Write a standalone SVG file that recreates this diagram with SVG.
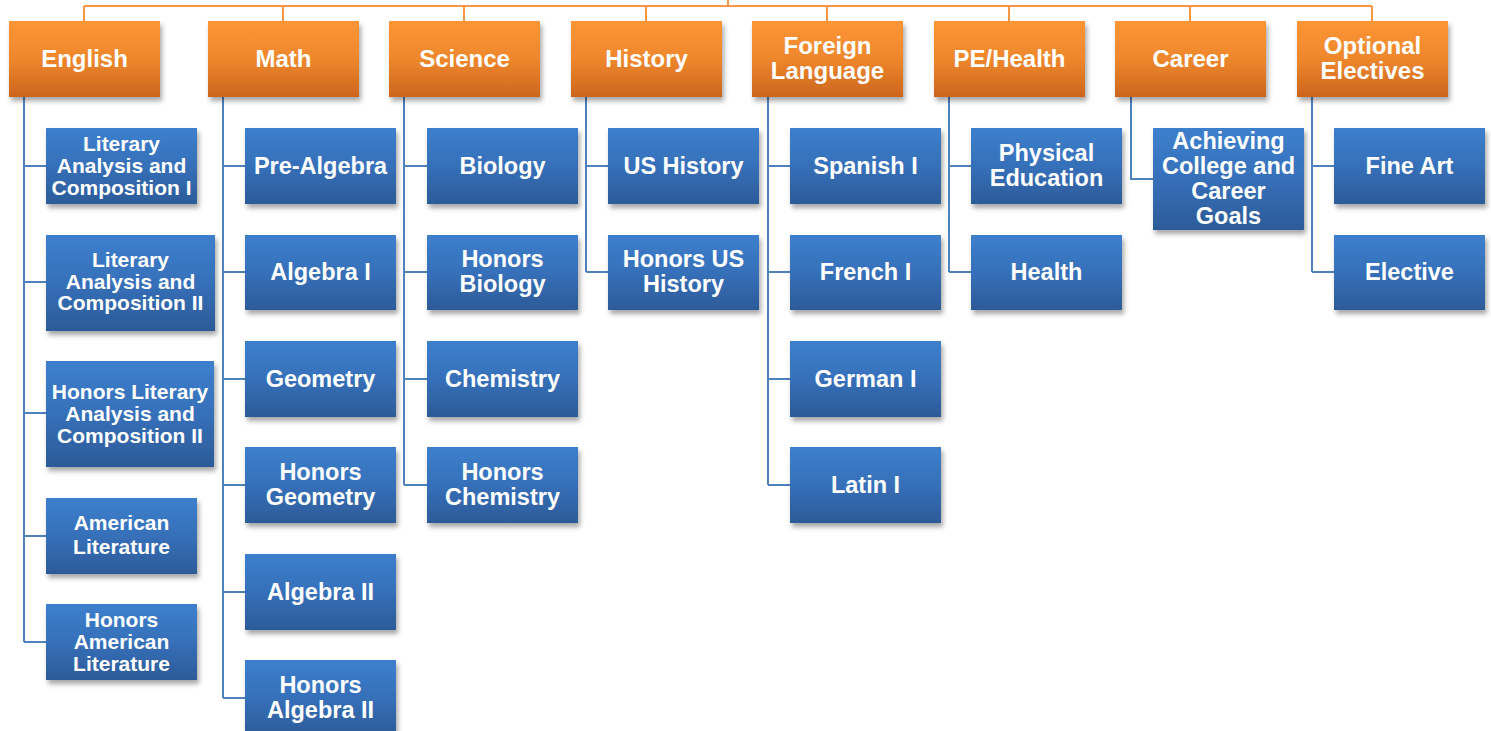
<svg xmlns="http://www.w3.org/2000/svg" width="1491" height="731" viewBox="0 0 1491 731">
<defs>
<linearGradient id="og" x1="0" y1="0" x2="0" y2="1">
<stop offset="0" stop-color="#FD9535"/><stop offset="0.5" stop-color="#EE872C"/><stop offset="1" stop-color="#CB661E"/>
</linearGradient>
<linearGradient id="bg" x1="0" y1="0" x2="0" y2="1">
<stop offset="0" stop-color="#3D7FCD"/><stop offset="0.5" stop-color="#3670B9"/><stop offset="1" stop-color="#2C5B98"/>
</linearGradient>
<filter id="sh" x="-10%" y="-10%" width="130%" height="140%">
<feDropShadow dx="2" dy="4" stdDeviation="2.5" flood-color="#000" flood-opacity="0.35"/>
</filter>
<style>
.o{fill:url(#og);filter:url(#sh)}
.b{fill:url(#bg);filter:url(#sh)}
text{font-family:"Liberation Sans",Arial,sans-serif;font-weight:bold;fill:#fff;text-anchor:middle}
.t{font-size:23.5px}
.h{font-size:24px}
.s{font-size:21px}
.oc{fill:none;stroke:#F79646;stroke-width:2}
.bc{fill:none;stroke:#4F81BD;stroke-width:2}
</style>
</defs>
<g id="connectors">
<path class="oc" d="M728,0V6M84,6H1372M84,6V21M283,6V21M464,6V21M646,6V21M827,6V21M1009,6V21M1190,6V21M1372,6V21"/>
<path class="bc" d="M24,97V642M24,166H46M24,282H46M24,413H46M24,536H46M24,642H46"/>
<path class="bc" d="M223,97V698M223,166H245M223,272H245M223,379H245M223,485H245M223,592H245M223,698H245"/>
<path class="bc" d="M404,97V485M404,166H427M404,272H427M404,379H427M404,485H427"/>
<path class="bc" d="M586,97V272M586,166H608M586,272H608"/>
<path class="bc" d="M768,97V485M768,166H790M768,272H790M768,379H790M768,485H790"/>
<path class="bc" d="M949,97V272M949,166H971M949,272H971"/>
<path class="bc" d="M1131,97V179H1153"/>
<path class="bc" d="M1312,97V272M1312,166H1334M1312,272H1334"/>
</g>
<g id="english"><rect class="o" x="9" y="21" width="151" height="76"/><text class="h" x="84.5" y="67">English</text></g>
<g id="math"><rect class="o" x="208" y="21" width="151" height="76"/><text class="h" x="283.5" y="67">Math</text></g>
<g id="science"><rect class="o" x="389" y="21" width="151" height="76"/><text class="h" x="464.5" y="67">Science</text></g>
<g id="history"><rect class="o" x="571" y="21" width="151" height="76"/><text class="h" x="646.5" y="67">History</text></g>
<g id="foreign"><rect class="o" x="752" y="21" width="151" height="76"/><text class="h" x="827.5" y="54">Foreign</text><text class="h" x="827.5" y="79">Language</text></g>
<g id="pehealth"><rect class="o" x="934" y="21" width="151" height="76"/><text class="h" x="1009.5" y="67">PE/Health</text></g>
<g id="career"><rect class="o" x="1115" y="21" width="151" height="76"/><text class="h" x="1190.5" y="67">Career</text></g>
<g id="optional"><rect class="o" x="1297" y="21" width="151" height="76"/><text class="h" x="1372.5" y="54">Optional</text><text class="h" x="1372.5" y="79">Electives</text></g>

<g id="lit1"><rect class="b" x="46" y="128" width="151" height="76"/><text class="s" x="121.5" y="151">Literary</text><text class="s" x="121.5" y="173">Analysis and</text><text class="s" x="121.5" y="195">Composition I</text></g>
<g id="lit2"><rect class="b" x="46" y="235" width="169" height="96"/><text class="s" x="130.5" y="267">Literary</text><text class="s" x="130.5" y="289">Analysis and</text><text class="s" x="130.5" y="310">Composition II</text></g>
<g id="hlit2"><rect class="b" x="46" y="361" width="168" height="106"/><text class="s" x="130" y="399">Honors Literary</text><text class="s" x="130" y="421">Analysis and</text><text class="s" x="130" y="443">Composition II</text></g>
<g id="amlit"><rect class="b" x="46" y="498" width="151" height="76"/><text class="s" x="121.5" y="530">American</text><text class="s" x="121.5" y="554">Literature</text></g>
<g id="hamlit"><rect class="b" x="46" y="604" width="151" height="76"/><text class="s" x="121.5" y="627">Honors</text><text class="s" x="121.5" y="649">American</text><text class="s" x="121.5" y="671">Literature</text></g>

<g id="prealg"><rect class="b" x="245" y="128" width="151" height="76"/><text class="t" x="320.5" y="174">Pre-Algebra</text></g>
<g id="alg1"><rect class="b" x="245" y="235" width="151" height="75"/><text class="t" x="320.5" y="280">Algebra I</text></g>
<g id="geom"><rect class="b" x="245" y="341" width="151" height="76"/><text class="t" x="320.5" y="387">Geometry</text></g>
<g id="hgeom"><rect class="b" x="245" y="447" width="151" height="76"/><text class="t" x="320.5" y="480">Honors</text><text class="t" x="320.5" y="505">Geometry</text></g>
<g id="alg2"><rect class="b" x="245" y="554" width="151" height="76"/><text class="t" x="320.5" y="600">Algebra II</text></g>
<g id="halg2"><rect class="b" x="245" y="660" width="151" height="76"/><text class="t" x="320.5" y="693">Honors</text><text class="t" x="320.5" y="718">Algebra II</text></g>

<g id="bio"><rect class="b" x="427" y="128" width="151" height="76"/><text class="t" x="502.5" y="174">Biology</text></g>
<g id="hbio"><rect class="b" x="427" y="235" width="151" height="75"/><text class="t" x="502.5" y="267">Honors</text><text class="t" x="502.5" y="292">Biology</text></g>
<g id="chem"><rect class="b" x="427" y="341" width="151" height="76"/><text class="t" x="502.5" y="387">Chemistry</text></g>
<g id="hchem"><rect class="b" x="427" y="447" width="151" height="76"/><text class="t" x="502.5" y="480">Honors</text><text class="t" x="502.5" y="505">Chemistry</text></g>

<g id="ushist"><rect class="b" x="608" y="128" width="151" height="76"/><text class="t" x="683.5" y="174">US History</text></g>
<g id="hushist"><rect class="b" x="608" y="235" width="151" height="75"/><text class="t" x="683.5" y="267">Honors US</text><text class="t" x="683.5" y="292">History</text></g>

<g id="spanish"><rect class="b" x="790" y="128" width="151" height="76"/><text class="t" x="865.5" y="174">Spanish I</text></g>
<g id="french"><rect class="b" x="790" y="235" width="151" height="75"/><text class="t" x="865.5" y="280">French I</text></g>
<g id="german"><rect class="b" x="790" y="341" width="151" height="76"/><text class="t" x="865.5" y="387">German I</text></g>
<g id="latin"><rect class="b" x="790" y="447" width="151" height="76"/><text class="t" x="865.5" y="493">Latin I</text></g>

<g id="pe"><rect class="b" x="971" y="128" width="151" height="76"/><text class="t" x="1046.5" y="161">Physical</text><text class="t" x="1046.5" y="186">Education</text></g>
<g id="health"><rect class="b" x="971" y="235" width="151" height="75"/><text class="t" x="1046.5" y="280">Health</text></g>

<g id="achieving"><rect class="b" x="1153" y="128" width="151" height="102"/><text class="t" x="1228.5" y="149">Achieving</text><text class="t" x="1228.5" y="174">College and</text><text class="t" x="1228.5" y="199">Career</text><text class="t" x="1228.5" y="224">Goals</text></g>

<g id="fineart"><rect class="b" x="1334" y="128" width="151" height="76"/><text class="t" x="1409.5" y="174">Fine Art</text></g>
<g id="elective"><rect class="b" x="1334" y="235" width="151" height="75"/><text class="t" x="1409.5" y="280">Elective</text></g>
</svg>
